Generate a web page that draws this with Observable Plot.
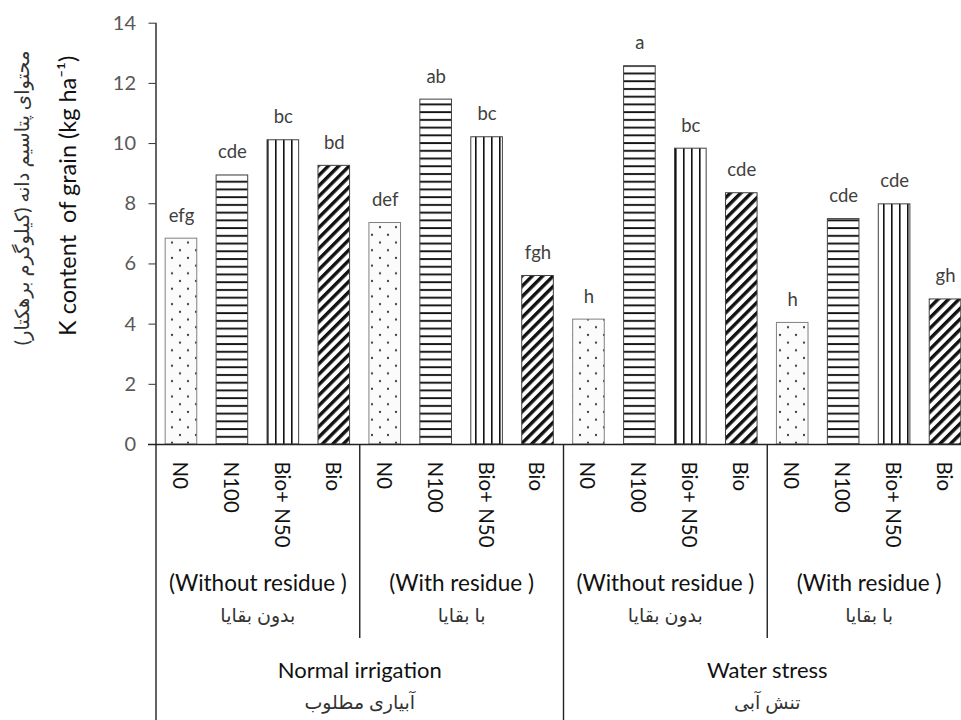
<!DOCTYPE html>
<html><head><meta charset="utf-8">
<script src="https://cdn.jsdelivr.net/npm/d3@7"></script>
<script src="https://cdn.jsdelivr.net/npm/@observablehq/plot@0.6"></script>
<style>body{margin:0;background:#fff;} svg{display:block}</style>
</head><body><div id="chart"></div>
<script>
// ---- data ----
const treatments = ["N0", "N100", "Bio+ N50", "Bio"];
const residueEn = ["(Without residue )", "(With residue )"];
const residueFa = ["بدون بقایا", "با بقایا"];
const irrigationEn = ["Normal irrigation", "Water stress"];
const irrigationFa = ["آبیاری مطلوب", "تنش آبی"];
const values = [6.84, 8.94, 10.11, 9.26, 7.36, 11.46, 10.21, 5.60, 4.15, 12.57, 9.83, 8.35, 4.04, 7.49, 7.98, 4.82];
const letters = ["efg", "cde", "bc", "bd", "def", "ab", "bc", "fgh", "h", "a", "bc", "cde", "h", "cde", "cde", "gh"];
const yTicks = [0, 2, 4, 6, 8, 10, 12, 14];
const yTitleEn = "K content  of grain (kg ha⁻¹)";
const yTitleFa = "محتوای پتاسیم دانه (کیلوگرم برهکتار)";

// ---- table ----
const rows = [];
irrigationEn.forEach((g, gi) => residueEn.forEach((r, ri) => treatments.forEach((t, ti) => {
  const i = gi * 8 + ri * 4 + ti;
  rows.push({i, t: ti, treatment: t, value: values[i], letter: letters[i]});
})));
const subgroups = [];
irrigationEn.forEach((g, gi) => residueEn.forEach((r, ri) => subgroups.push({pos: gi * 8 + ri * 4 + 2, en: r, fa: residueFa[ri] + "\u200F"})));
const groups = irrigationEn.map((g, gi) => ({pos: gi * 8 + 4, en: g, fa: irrigationFa[gi] + "\u200F"}));

// ---- layout ----
const W = 961, H = 720, mL = 155.5, mT = 22.7, mB = 276;
const perUnit = (H - mB - mT) / 14;
const below = px => -px / perUnit;
const inset = 9.67;
const FONT = "Lato, 'DejaVu Sans', sans-serif";
const patternIds = ["pDots", "pHoriz", "pVert", "pDiag"];
const strokes = ["#808080", "#404040", "#404040", "#404040"];

const marks = [];
treatments.forEach((t, ti) => {
  marks.push(Plot.rect(rows.filter(d => d.t === ti), {
    x1: d => d.i, x2: d => d.i + 1, y1: () => 0, y2: "value",
    insetLeft: inset, insetRight: inset,
    fill: `url(#${patternIds[ti]})`, stroke: strokes[ti], strokeWidth: 1
  }));
});
marks.push(
  Plot.text(rows, {x: d => d.i + 0.5, y: "value", text: "letter", dy: -23, fontSize: 18.5, fill: "#404040"}),
  Plot.axisY({ticks: yTicks, tickSize: 7, tickPadding: 13, fontSize: 20, color: "#595959", stroke: "#333", label: null}),
  Plot.ruleY([0], {stroke: "#222", strokeWidth: 1.4, insetLeft: -7.5}),
  Plot.ruleX([0], {y1: 14, y2: below(276), stroke: "#222", strokeWidth: 1.4}),
  Plot.ruleX([8], {y1: 0, y2: below(276), stroke: "#222", strokeWidth: 1.4}),
  Plot.ruleX([4, 12], {y1: 0, y2: below(194), stroke: "#222", strokeWidth: 1.4}),
  Plot.text(rows, {x: d => d.i + 0.5, y: () => 0, text: "treatment", rotate: 90, textAnchor: "start", dy: 17, dx: -2, fontSize: 20.5, fill: "#111"}),
  Plot.text(subgroups, {x: "pos", y: () => 0, text: "en", dy: 139, fontSize: 22.5, fill: "#111"}),
  Plot.text(subgroups, {x: "pos", y: () => 0, text: "fa", dy: 171, fontSize: 19, fill: "#333"}),
  Plot.text(groups, {x: "pos", y: () => 0, text: "en", dy: 226, fontSize: 22, fill: "#111"}),
  Plot.text(groups, {x: "pos", y: () => 0, text: "fa", dy: 258, fontSize: 19, fill: "#333"}),
  Plot.text([yTitleEn], {text: d => d, frameAnchor: "left", textAnchor: "middle", rotate: -90, dx: -88, dy: -38, fontSize: 23.5, fill: "#111"}),
  Plot.text([yTitleFa + "\u200F"], {text: d => d, frameAnchor: "left", textAnchor: "middle", rotate: -90, dx: -133, dy: -36, fontSize: 19.5, fill: "#333"})
);

const chart = Plot.plot({
  width: W, height: H,
  marginLeft: mL, marginRight: 0, marginTop: mT, marginBottom: mB,
  style: {fontFamily: FONT, background: "#fff", overflow: "hidden"},
  x: {type: "linear", domain: [0, 16], range: [155.5, 970.5], axis: null},
  y: {domain: [0, 14]},
  marks
});

// ---- fill patterns ----
const defs = d3.select(chart).insert("defs", ":first-child");
const pd = defs.append("pattern").attr("id", "pDots").attr("patternUnits", "userSpaceOnUse").attr("width", 16).attr("height", 15.4);
pd.append("rect").attr("width", 16).attr("height", 15.4).attr("fill", "#fbfbfb");
pd.append("circle").attr("cx", 4).attr("cy", 3.85).attr("r", 1.1).attr("fill", "#333");
pd.append("circle").attr("cx", 12).attr("cy", 11.55).attr("r", 1.1).attr("fill", "#333");
const ph = defs.append("pattern").attr("id", "pHoriz").attr("patternUnits", "userSpaceOnUse").attr("width", 8).attr("height", 7.73);
ph.append("rect").attr("width", 8).attr("height", 7.73).attr("fill", "#fff");
ph.append("rect").attr("y", 3).attr("width", 8).attr("height", 1.9).attr("fill", "#111");
const pv = defs.append("pattern").attr("id", "pVert").attr("patternUnits", "userSpaceOnUse").attr("width", 8).attr("height", 8);
pv.append("rect").attr("width", 8).attr("height", 8).attr("fill", "#fff");
pv.append("rect").attr("x", 3).attr("width", 1.6).attr("height", 8).attr("fill", "#111");
const pg = defs.append("pattern").attr("id", "pDiag").attr("patternUnits", "userSpaceOnUse").attr("width", 7.4).attr("height", 7.4).attr("patternTransform", "rotate(45)");
pg.append("rect").attr("width", 7.4).attr("height", 7.4).attr("fill", "#fff");
pg.append("rect").attr("x", 0).attr("width", 3.4).attr("height", 7.4).attr("fill", "#111");

document.getElementById("chart").append(chart);
</script>
</body></html>
